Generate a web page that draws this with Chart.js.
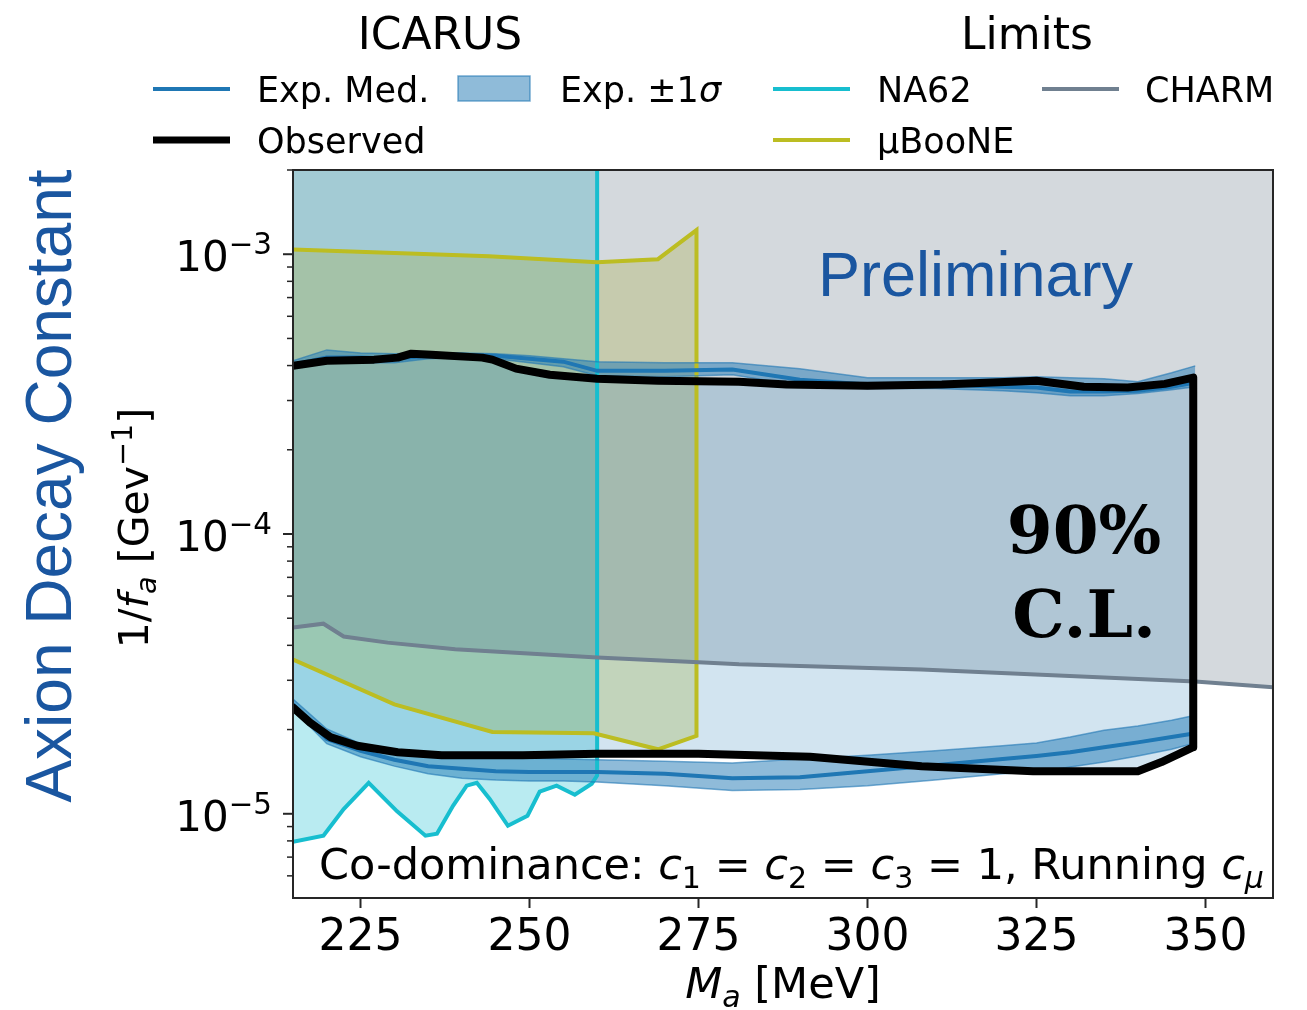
<!DOCTYPE html>
<html lang="en">
<head>
<meta charset="utf-8">
<title>ICARUS axion decay constant limits</title>
<script src="https://cdn.jsdelivr.net/npm/chart.js@4.4.1/dist/chart.umd.min.js"></script>
<style>
  html, body { margin: 0; padding: 0; background: #ffffff; }
  #chart { display: block; }
</style>
</head>
<body>
<canvas id="chart" width="1307" height="1010"></canvas>
<script>
// ---------------- data ----------------
// Axis ranges and tick labels
const X_MIN = 215, X_MAX = 360;
const Y_MIN = 5e-6, Y_MAX = 2e-3;
const xTickValues = [225, 250, 275, 300, 325, 350];
const yTickValues = [1e-5, 1e-4, 1e-3];
const yTickExponents = ['\u22125', '\u22124', '\u22123'];
const yMinorSteps = [2, 3, 4, 5, 6, 7, 8, 9];

// ICARUS expected limits: mass grid [MeV]
const expMass = [215, 220, 225, 230, 235, 240, 245, 250, 255, 260, 270, 280, 290, 300, 310, 320, 325, 330, 335, 340, 345, 348.5];
// upper edge of the excluded region: +1 sigma, median, -1 sigma [GeV^-1]
const expUpperHi  = [4.16e-4, 4.55e-4, 4.44e-4, 4.41e-4, 4.44e-4, 4.44e-4, 4.41e-4, 4.34e-4, 4.23e-4, 4.13e-4, 4.09e-4, 4.09e-4, 3.90e-4, 3.62e-4, 3.62e-4, 3.62e-4, 3.65e-4, 3.62e-4, 3.59e-4, 3.50e-4, 3.77e-4, 3.99e-4];
const expUpperMed = [4.03e-4, 4.27e-4, 4.27e-4, 4.23e-4, 4.34e-4, 4.37e-4, 4.34e-4, 4.23e-4, 4.13e-4, 3.83e-4, 3.83e-4, 3.87e-4, 3.56e-4, 3.42e-4, 3.42e-4, 3.36e-4, 3.34e-4, 3.23e-4, 3.23e-4, 3.25e-4, 3.36e-4, 3.48e-4];
const expUpperLo  = [3.93e-4, 4.09e-4, 4.09e-4, 4.09e-4, 4.23e-4, 4.27e-4, 4.23e-4, 4.09e-4, 3.96e-4, 3.68e-4, 3.65e-4, 3.71e-4, 3.39e-4, 3.31e-4, 3.31e-4, 3.25e-4, 3.20e-4, 3.12e-4, 3.12e-4, 3.18e-4, 3.28e-4, 3.36e-4];
// lower edge of the excluded region
const expLowerHi  = [2.57e-5, 2.01e-5, 1.78e-5, 1.68e-5, 1.64e-5, 1.61e-5, 1.60e-5, 1.58e-5, 1.57e-5, 1.56e-5, 1.54e-5, 1.52e-5, 1.57e-5, 1.62e-5, 1.68e-5, 1.75e-5, 1.79e-5, 1.88e-5, 1.99e-5, 2.06e-5, 2.16e-5, 2.25e-5];
const expLowerMed = [2.46e-5, 1.85e-5, 1.68e-5, 1.56e-5, 1.48e-5, 1.45e-5, 1.42e-5, 1.41e-5, 1.41e-5, 1.41e-5, 1.39e-5, 1.34e-5, 1.35e-5, 1.42e-5, 1.49e-5, 1.57e-5, 1.61e-5, 1.66e-5, 1.73e-5, 1.80e-5, 1.88e-5, 1.94e-5];
const expLowerLo  = [2.36e-5, 1.78e-5, 1.60e-5, 1.48e-5, 1.39e-5, 1.34e-5, 1.32e-5, 1.31e-5, 1.31e-5, 1.30e-5, 1.26e-5, 1.21e-5, 1.22e-5, 1.26e-5, 1.32e-5, 1.39e-5, 1.41e-5, 1.47e-5, 1.53e-5, 1.61e-5, 1.70e-5, 1.79e-5];

// ICARUS observed 90% C.L. contour
const obsUpperMass = [215, 220, 227, 230.5, 232.5, 235.5, 243, 244.5, 248, 253, 260, 269, 281, 288, 300, 311, 325, 332, 338.5, 344, 348.2];
const obsUpper     = [3.99e-4, 4.16e-4, 4.20e-4, 4.27e-4, 4.41e-4, 4.37e-4, 4.27e-4, 4.20e-4, 3.90e-4, 3.71e-4, 3.59e-4, 3.53e-4, 3.50e-4, 3.42e-4, 3.39e-4, 3.42e-4, 3.53e-4, 3.36e-4, 3.34e-4, 3.44e-4, 3.62e-4];
const obsLowerMass = [215, 217.5, 220.5, 224.5, 230.5, 237, 249, 260, 275, 291.5, 308, 324.5, 340, 343.5, 348.2];
const obsLower     = [2.40e-5, 2.12e-5, 1.88e-5, 1.75e-5, 1.66e-5, 1.62e-5, 1.62e-5, 1.64e-5, 1.64e-5, 1.60e-5, 1.48e-5, 1.42e-5, 1.42e-5, 1.53e-5, 1.73e-5];

// NA62 lower limit (excluded above, up to 260 MeV)
const na62Mass  = [215, 219.5, 222.5, 226.2, 230.4, 234.6, 236.3, 238.7, 240.7, 242.2, 244.1, 246.8, 249.7, 251.5, 254.0, 256.7, 259.2, 260];
const na62Limit = [7.94e-6, 8.35e-6, 1.04e-5, 1.29e-5, 1.02e-5, 8.35e-6, 8.49e-6, 1.07e-5, 1.26e-5, 1.29e-5, 1.13e-5, 9.06e-6, 9.84e-6, 1.20e-5, 1.26e-5, 1.17e-5, 1.28e-5, 1.37e-5];

// MicroBooNE excluded band
const boonMassTop     = [215, 244, 260, 269, 274.7];
const boonLimitTop    = [1.04e-3, 9.84e-4, 9.37e-4, 9.60e-4, 1.22e-3];
const boonMassBottom  = [215, 230, 244.5, 259.5, 269, 274.7];
const boonLimitBottom = [3.56e-5, 2.46e-5, 1.96e-5, 1.94e-5, 1.70e-5, 1.90e-5];

// CHARM lower limit (excluded above)
const charmMass  = [215, 219.5, 222.5, 229, 239, 260, 275, 281, 308, 348.5, 360];
const charmLimit = [4.63e-5, 4.78e-5, 4.30e-5, 4.09e-5, 3.87e-5, 3.62e-5, 3.48e-5, 3.42e-5, 3.28e-5, 2.97e-5, 2.83e-5];

// ---------------- styles ----------------
const SANS = '"DejaVu Sans", "Liberation Sans", sans-serif';
const C_BLUE = '#1f77b4';
const C_BAND = 'rgba(31,119,180,0.5)';
const C_BAND_EDGE = 'rgba(31,119,180,0.6)';
const C_OBS_FILL = 'rgba(31,119,180,0.2)';
const C_NA62 = '#17becf';
const C_BOON = '#bcbd22';
const C_CHARM = '#708090';
const C_TITLE_BLUE = '#1a56a0';
const OUTSIDE = 205;       // mass left of the axis, used to close shapes off-chart
const SHAPE_TOP = 1;       // coupling above the axis, used to close shapes off-chart

function pts(xs, ys) { return xs.map((x, i) => ({ x, y: ys[i] })); }
function closedBand(topX, topY, botX, botY) {
  return [...pts(topX, topY), ...pts(botX, botY).reverse(),
          { x: OUTSIDE, y: botY[0] }, { x: OUTSIDE, y: topY[0] }];
}
const na62Shape = [...pts(na62Mass, na62Limit),
  { x: na62Mass[na62Mass.length - 1], y: SHAPE_TOP }, { x: OUTSIDE, y: SHAPE_TOP }, { x: OUTSIDE, y: na62Limit[0] }];
const boonShape = closedBand(boonMassTop, boonLimitTop, boonMassBottom, boonLimitBottom);
const observedShape = closedBand(obsUpperMass, obsUpper, obsLowerMass, obsLower);

const common = { pointRadius: 0, pointHoverRadius: 0, tension: 0, clip: 0, spanGaps: true };

// ---------------- text helpers ----------------
function drawRuns(ctx, runs, x, y, size, align) {
  let total = 0;
  const items = runs.map(r => {
    const s = (r.sub || r.sup) ? size * 0.7 : size;
    const font = (r.it ? 'italic ' : '') + s.toFixed(1) + 'px ' + SANS;
    ctx.font = font;
    const w = ctx.measureText(r.t).width;
    total += w;
    return { t: r.t, font, w, dy: r.sub ? size * 0.2 : r.sup ? -size * 0.4 : 0 };
  });
  let cx = align === 'center' ? x - total / 2 : align === 'right' ? x - total : x;
  ctx.textAlign = 'left';
  ctx.textBaseline = 'alphabetic';
  for (const it of items) { ctx.font = it.font; ctx.fillText(it.t, cx, y + it.dy); cx += it.w; }
  return total;
}

const decor = {
  id: 'decor',
  afterDatasetsDraw(chart) {
    const { ctx, chartArea: a } = chart;
    ctx.save();
    // plot frame
    ctx.strokeStyle = '#262626';
    ctx.lineWidth = 2;
    ctx.strokeRect(a.left, a.top, a.right - a.left, a.bottom - a.top);

    // annotations inside the axes
    ctx.fillStyle = C_TITLE_BLUE;
    ctx.font = '63px "Liberation Sans", Arial, sans-serif';
    ctx.textAlign = 'left';
    ctx.textBaseline = 'alphabetic';
    ctx.fillText('Preliminary', 818, 296);

    ctx.fillStyle = '#000';
    ctx.font = 'bold 66px "DejaVu Serif", serif';
    ctx.textAlign = 'center';
    ctx.fillText('90%', 1084, 553);
    ctx.fillText('C.L.', 1084, 637);

    ctx.fillStyle = '#000';
    drawRuns(ctx, [
      { t: 'Co-dominance: ' },
      { t: 'c', it: true }, { t: '1', sub: true }, { t: ' = ' },
      { t: 'c', it: true }, { t: '2', sub: true }, { t: ' = ' },
      { t: 'c', it: true }, { t: '3', sub: true }, { t: ' = 1, Running ' },
      { t: 'c', it: true }, { t: '\u03bc', it: true, sub: true }
    ], 319, 879, 43, 'left');
    ctx.restore();
  },
  afterDraw(chart) {
    const { ctx, chartArea: a, scales: { y } } = chart;
    ctx.save();
    ctx.strokeStyle = '#262626';
    ctx.fillStyle = '#000';

    // log-axis tick marks and labels
    const e0 = Math.floor(Math.log10(Y_MIN)), e1 = Math.ceil(Math.log10(Y_MAX));
    for (let e = e0; e <= e1; e++) {
      for (const m of yMinorSteps) {
        const v = m * Math.pow(10, e);
        if (v < Y_MIN || v > Y_MAX) continue;
        const py = y.getPixelForValue(v);
        ctx.lineWidth = 1.5;
        ctx.beginPath(); ctx.moveTo(a.left - 6, py); ctx.lineTo(a.left, py); ctx.stroke();
      }
    }
    yTickValues.forEach((v, i) => {
      const py = y.getPixelForValue(v);
      ctx.lineWidth = 2;
      ctx.beginPath(); ctx.moveTo(a.left - 10, py); ctx.lineTo(a.left, py); ctx.stroke();
      drawRuns(ctx, [{ t: '10' }, { t: yTickExponents[i], sup: true }], a.left - 21, py + 17, 42, 'right');
    });

    // axis titles
    drawRuns(ctx, [{ t: 'M', it: true }, { t: 'a', it: true, sub: true }, { t: ' [MeV]' }],
      (a.left + a.right) / 2, 998, 43, 'center');

    ctx.save();
    ctx.translate(148, 528);
    ctx.rotate(-Math.PI / 2);
    drawRuns(ctx, [{ t: '1/' }, { t: 'f', it: true }, { t: 'a', it: true, sub: true },
      { t: ' [Gev' }, { t: '\u22121', sup: true }, { t: ']' }], 0, 0, 41, 'center');
    ctx.restore();

    ctx.save();
    ctx.translate(71, 486);
    ctx.rotate(-Math.PI / 2);
    ctx.fillStyle = C_TITLE_BLUE;
    ctx.font = '64px "Liberation Sans", Arial, sans-serif';
    ctx.textAlign = 'center';
    ctx.textBaseline = 'alphabetic';
    ctx.fillText('Axion Decay Constant', 0, 0);
    ctx.restore();

    // legend: two titled groups
    ctx.fillStyle = '#000';
    ctx.font = '44px ' + SANS;
    ctx.textAlign = 'center';
    ctx.textBaseline = 'alphabetic';
    ctx.fillText('ICARUS', 440, 49);
    ctx.fillText('Limits', 1027, 49);

    const rowY = [89, 140];
    const handle = (x0, yy, color, w) => {
      ctx.strokeStyle = color; ctx.lineWidth = w; ctx.lineCap = 'butt';
      ctx.beginPath(); ctx.moveTo(x0, yy); ctx.lineTo(x0 + 77, yy); ctx.stroke();
    };
    const label = (runs, x0, yy) => { ctx.fillStyle = '#000'; drawRuns(ctx, runs, x0, yy + 12.5, 35, 'left'); };

    handle(153, rowY[0], C_BLUE, 4);
    label([{ t: 'Exp. Med.' }], 257, rowY[0]);
    ctx.fillStyle = C_BAND; ctx.fillRect(458, 76, 72, 25);
    ctx.strokeStyle = C_BAND_EDGE; ctx.lineWidth = 1.5; ctx.strokeRect(458, 76, 72, 25);
    label([{ t: 'Exp. \u00b11' }, { t: '\u03c3', it: true }], 560, rowY[0]);
    handle(773, rowY[0], C_NA62, 4);
    label([{ t: 'NA62' }], 877, rowY[0]);
    handle(1042, rowY[0], C_CHARM, 4);
    label([{ t: 'CHARM' }], 1145, rowY[0]);
    handle(153, rowY[1], '#000', 7);
    label([{ t: 'Observed' }], 257, rowY[1]);
    handle(773, rowY[1], C_BOON, 4);
    label([{ t: '\u00b5BooNE' }], 877, rowY[1]);
    ctx.restore();
  }
};

new Chart(document.getElementById('chart'), {
  type: 'line',
  data: {
    datasets: [
      { ...common, label: 'Observed', data: observedShape, fill: 'shape',
        backgroundColor: C_OBS_FILL, borderColor: '#000', borderWidth: 8,
        borderJoinStyle: 'round', borderCapStyle: 'round', order: 1 },
      { ...common, label: 'Exp. \u00b11\u03c3 upper (high)', data: pts(expMass, expUpperHi), fill: '+1',
        backgroundColor: C_BAND, borderColor: C_BAND_EDGE, borderWidth: 1.5, order: 6 },
      { ...common, label: 'Exp. \u00b11\u03c3 upper (low)', data: pts(expMass, expUpperLo), fill: false,
        borderColor: C_BAND_EDGE, borderWidth: 1.5, order: 6 },
      { ...common, label: 'Exp. \u00b11\u03c3 lower (high)', data: pts(expMass, expLowerHi), fill: '+1',
        backgroundColor: C_BAND, borderColor: C_BAND_EDGE, borderWidth: 1.5, order: 6 },
      { ...common, label: 'Exp. \u00b11\u03c3 lower (low)', data: pts(expMass, expLowerLo), fill: false,
        borderColor: C_BAND_EDGE, borderWidth: 1.5, order: 6 },
      { ...common, label: 'Exp. Med. upper', data: pts(expMass, expUpperMed), fill: false,
        borderColor: C_BLUE, borderWidth: 4, order: 5 },
      { ...common, label: 'Exp. Med. lower', data: pts(expMass, expLowerMed), fill: false,
        borderColor: C_BLUE, borderWidth: 4, order: 5 },
      { ...common, label: 'CHARM', data: pts(charmMass, charmLimit), fill: 'end',
        backgroundColor: 'rgba(112,128,144,0.3)', borderColor: C_CHARM, borderWidth: 4, order: 7 },
      { ...common, label: '\u00b5BooNE', data: boonShape, fill: 'shape',
        backgroundColor: 'rgba(188,189,34,0.3)', borderColor: C_BOON, borderWidth: 4,
        borderJoinStyle: 'miter', order: 8 },
      { ...common, label: 'NA62', data: na62Shape, fill: 'shape',
        backgroundColor: 'rgba(23,190,207,0.3)', borderColor: C_NA62, borderWidth: 4, order: 9 }
    ]
  },
  options: {
    responsive: false,
    devicePixelRatio: 1,
    animation: false,
    events: [],
    layout: { padding: { top: 170, right: 34, left: 0, bottom: 0 } },
    plugins: {
      legend: { display: false },
      tooltip: { enabled: false },
      filler: { drawTime: 'beforeDatasetsDraw', propagate: false }
    },
    scales: {
      x: {
        type: 'linear', min: X_MIN, max: X_MAX,
        afterBuildTicks: s => { s.ticks = xTickValues.map(v => ({ value: v })); },
        afterFit: s => { s.height = 112; },
        grid: { display: true, drawOnChartArea: false, drawTicks: true, tickLength: 10,
                tickWidth: 2, tickColor: '#262626', color: 'rgba(0,0,0,0)' },
        border: { display: false },
        ticks: { font: { family: SANS, size: 44 }, color: '#000', padding: 4,
                 maxRotation: 0, autoSkip: false, callback: v => String(v) }
      },
      y: {
        type: 'logarithmic', min: Y_MIN, max: Y_MAX,
        afterFit: s => { s.width = 293; },
        ticks: { display: false },
        grid: { display: false },
        border: { display: false }
      }
    }
  },
  plugins: [decor]
});
</script>
</body>
</html>
